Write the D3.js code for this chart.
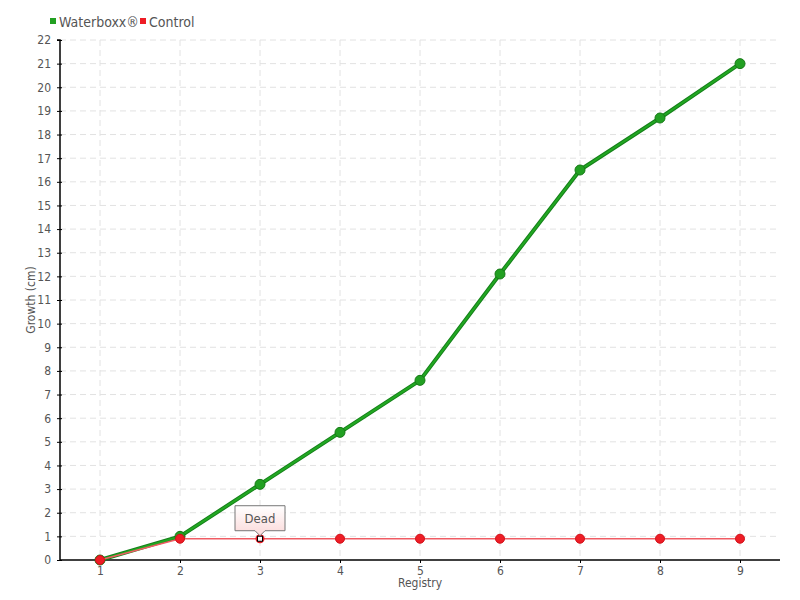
<!DOCTYPE html>
<html>
<head>
<meta charset="utf-8">
<script src="https://d3js.org/d3.v7.min.js"></script>
<style>
  body { margin: 0; background: #fff; }
  svg text { font-family: "DejaVu Sans Condensed", "DejaVu Sans", sans-serif; fill: #555; }
</style>
</head>
<body>
<div id="chart"></div>
<script>
// chart data
var registry = [1, 2, 3, 4, 5, 6, 7, 8, 9];
var waterboxx = [0, 1, 3.2, 5.4, 7.6, 12.1, 16.5, 18.7, 21];
var control = [0, 0.9, 0.9, 0.9, 0.9, 0.9, 0.9, 0.9, 0.9];
var yTicks = d3.range(0, 23);
var deadIndex = 2;   // control plant died at registry 3

const fullwidth = 800, fullheight = 600;
const plotLeft = 60, plotRight = 780, plotTop = 40, plotBottom = 560;

var svg = d3.select("#chart").append("svg")
  .attr("width", fullwidth)
  .attr("height", fullheight);

var defs = svg.append("defs");
var grad = defs.append("linearGradient").attr("id", "tipgrad").attr("x1", 0).attr("y1", 0).attr("x2", 0).attr("y2", 1);
grad.append("stop").attr("offset", "0%").attr("stop-color", "#fff");
grad.append("stop").attr("offset", "100%").attr("stop-color", "#fbd9d9");

var xScale = d3.scalePoint().domain(registry).range([plotLeft, plotRight]).padding(0.5);
var yScale = d3.scaleLinear().domain([0, 22]).range([plotBottom, plotTop]);

// grid
svg.append("g").selectAll("line").data(yTicks.slice(1)).enter().append("line")
  .attr("x1", plotLeft).attr("x2", plotRight)
  .attr("y1", d => yScale(d)).attr("y2", d => yScale(d))
  .attr("stroke", "#e2e2e2").attr("stroke-dasharray", "6,4");
svg.append("g").selectAll("line").data(registry).enter().append("line")
  .attr("x1", d => xScale(d)).attr("x2", d => xScale(d))
  .attr("y1", plotTop).attr("y2", plotBottom)
  .attr("stroke", "#e2e2e2").attr("stroke-dasharray", "6,4");

// axes
var yAxis = svg.append("g").attr("transform", "translate(" + plotLeft + ",0)")
  .call(d3.axisLeft(yScale).tickValues(yTicks).tickSize(4).tickPadding(5));
yAxis.selectAll(".tick line").attr("x2", 2).attr("x1", -3).attr("stroke", "#000");
yAxis.select(".domain").attr("d", "M-3," + plotTop + "H0V" + plotBottom).attr("stroke", "#000").attr("stroke-width", 1.5);
yAxis.selectAll("text").attr("font-size", 12).style("fill", "#555");

var xAxis = svg.append("g").attr("transform", "translate(0," + plotBottom + ")")
  .call(d3.axisBottom(xScale).tickSize(3).tickPadding(3));
xAxis.select(".domain").attr("d", "M" + plotLeft + ",0H" + plotRight).attr("stroke", "#000").attr("stroke-width", 1.5);
xAxis.selectAll(".tick line").attr("stroke", "#000");
xAxis.selectAll("text").attr("font-size", 12).style("fill", "#555");

// axis titles
svg.append("text").attr("x", (plotLeft + plotRight) / 2).attr("y", 587).attr("text-anchor", "middle")
  .attr("font-size", 12).text("Registry");
svg.append("text").attr("transform", "translate(35," + ((plotTop + plotBottom) / 2) + ") rotate(-90)")
  .attr("text-anchor", "middle").attr("font-size", 12).text("Growth (cm)");

var line = d3.line().x((d, i) => xScale(registry[i])).y(d => yScale(d));

// waterboxx series
svg.append("path").datum(waterboxx).attr("d", line)
  .attr("fill", "none").attr("stroke", "#15801a").attr("stroke-width", 4).attr("stroke-linejoin", "round");
svg.append("path").datum(waterboxx).attr("d", line)
  .attr("fill", "none").attr("stroke", "#22a822").attr("stroke-width", 2).attr("stroke-linejoin", "round");
svg.append("g").selectAll("circle").data(waterboxx).enter().append("circle")
  .attr("cx", (d, i) => xScale(registry[i])).attr("cy", d => yScale(d)).attr("r", 5)
  .attr("fill", "#22a022").attr("stroke", "#177a17").attr("stroke-width", 1);

// control series
svg.append("path").datum(control).attr("d", line)
  .attr("fill", "none").attr("stroke", "#f05c64").attr("stroke-width", 1.5);
svg.append("g").selectAll("circle").data(control.map((v, i) => ({v: v, i: i})).filter(d => d.i !== deadIndex))
  .enter().append("circle")
  .attr("cx", d => xScale(registry[d.i])).attr("cy", d => yScale(d.v)).attr("r", 4.5)
  .attr("fill", "#ee1c25").attr("stroke", "#d01018").attr("stroke-width", 1);

// dead marker
var dx = xScale(registry[deadIndex]), dy = yScale(control[deadIndex]);
svg.append("circle").attr("cx", dx).attr("cy", dy).attr("r", 4.5).attr("fill", "#ee1c25");
svg.append("rect").attr("x", dx - 2.5).attr("y", dy - 2.5).attr("width", 5).attr("height", 5)
  .attr("fill", "#fff").attr("stroke", "#000").attr("stroke-width", 1);

// Dead label
var bw = 50, bh = 25, by = dy - 33;
svg.append("path")
  .attr("d", "M" + (dx - bw / 2) + "," + by + "h" + bw + "v" + bh + "h" + (-bw / 2 + 5) + "l-5,5l-5,-5h" + (-bw / 2 + 5) + "z")
  .attr("fill", "url(#tipgrad)").attr("stroke", "#777").attr("stroke-width", 1);
svg.append("text").attr("x", dx).attr("y", by + 17).attr("text-anchor", "middle")
  .attr("font-size", 13).text("Dead");

// legend
var legend = svg.append("g");
legend.append("rect").attr("x", 50).attr("y", 18).attr("width", 6).attr("height", 6).attr("fill", "#22a022");
legend.append("text").attr("x", 59).attr("y", 27).attr("font-size", 14).text("Waterboxx®");
legend.append("rect").attr("x", 140).attr("y", 18).attr("width", 6).attr("height", 6).attr("fill", "#ee1c25");
legend.append("text").attr("x", 149).attr("y", 27).attr("font-size", 14).text("Control");
</script>
</body>
</html>
